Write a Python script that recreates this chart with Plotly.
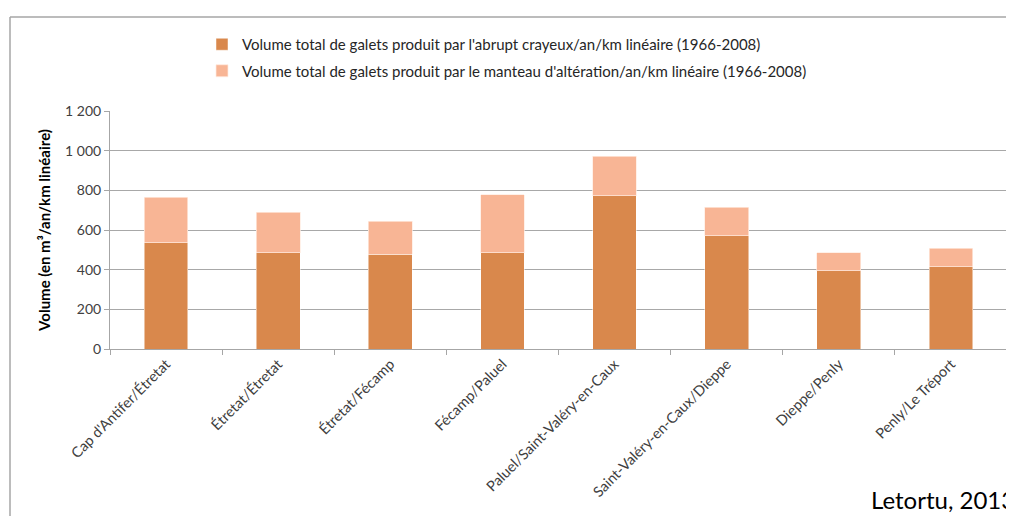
import plotly.graph_objects as go

categories = ["Cap d'Antifer/Étretat", "Étretat/Étretat", "Étretat/Fécamp", "Fécamp/Paluel",
              "Paluel/Saint-Valéry-en-Caux", "Saint-Valéry-en-Caux/Dieppe", "Dieppe/Penly", "Penly/Le Tréport"]
abrupt = [537, 485, 478, 485, 773, 572, 395, 414]
totals = [766, 690, 643, 778, 971, 714, 485, 508]
manteau = [t - a for t, a in zip(totals, abrupt)]

name_abrupt = "Volume total de galets produit par l'abrupt crayeux/an/km linéaire (1966-2008)"
name_manteau = "Volume total de galets produit par le manteau d'altération/an/km linéaire (1966-2008)"

OFF = 8  # page body margin
W, H = 1014 - OFF, 516 - OFF
L, T = 110 - OFF, 111 - OFF
pw, ph = 897, 238
R, B = W - L - pw, H - T - ph


def px(xp):  # page x -> paper
    return (xp - OFF - L) / pw


def py(yp):  # page y -> paper
    return 1 - (yp - OFF - T) / ph


FONT = "Lato"
fig = go.Figure()
fig.add_bar(x=categories, y=abrupt, name=name_abrupt, legendgroup="a",
            marker=dict(color="#D9884C", line=dict(color="rgba(255,255,255,0.6)", width=0.8)))
fig.add_bar(x=categories, y=manteau, name=name_manteau, legendgroup="b",
            marker=dict(color="#F8B595", line=dict(color="rgba(255,235,225,0.9)", width=0.8)))

fig.update_layout(
    width=W, height=H, barmode="stack", bargap=0.61,
    margin=dict(l=L, r=R, t=T, b=B),
    plot_bgcolor="white", paper_bgcolor="white",
    separators=", ",
    font=dict(family=FONT, size=13, color="#404040"),
    legend=dict(x=px(202), y=py(28), xanchor="left", yanchor="top",
                traceorder="grouped", tracegroupgap=4,
                font=dict(family=FONT, size=15, color="#262626"),
                itemwidth=30, bgcolor="rgba(0,0,0,0)"),
    xaxis=dict(showline=True, linecolor="#A6A6A6", linewidth=1, ticks="outside",
               tickson="boundaries", ticklen=5, tickcolor="#A6A6A6", tickangle=-45,
               tickfont=dict(family=FONT, size=14.5, color="#404040"), showgrid=False),
    yaxis=dict(range=[0, 1200], dtick=200, tickformat=",d", showline=True, linecolor="#A6A6A6",
               ticks="outside", ticklen=5, tickcolor="#A6A6A6", gridcolor="#A8A8A8", gridwidth=1,
               zeroline=False, tickfont=dict(family=FONT, size=14, color="#404040"),
               title=dict(text="<b>Volume (en m³/an/km linéaire)</b>", standoff=10,
                          font=dict(family=FONT, size=15, color="#000000"))),
    shapes=[
        dict(type="line", xref="paper", yref="paper", x0=px(10), x1=px(1030),
             y0=py(17), y1=py(17), line=dict(color="#A6A6A6", width=1.5)),
        dict(type="line", xref="paper", yref="paper", x0=px(10), x1=px(10),
             y0=py(530), y1=py(17), line=dict(color="#A6A6A6", width=1.5)),
    ],
    annotations=[dict(text="Letortu, 2013", xref="paper", yref="paper", x=px(869),
                      y=py(516), xanchor="left", yanchor="bottom", showarrow=False,
                      font=dict(family=FONT, size=24, color="#000000"))],
)

fig.write_html("out.html")
